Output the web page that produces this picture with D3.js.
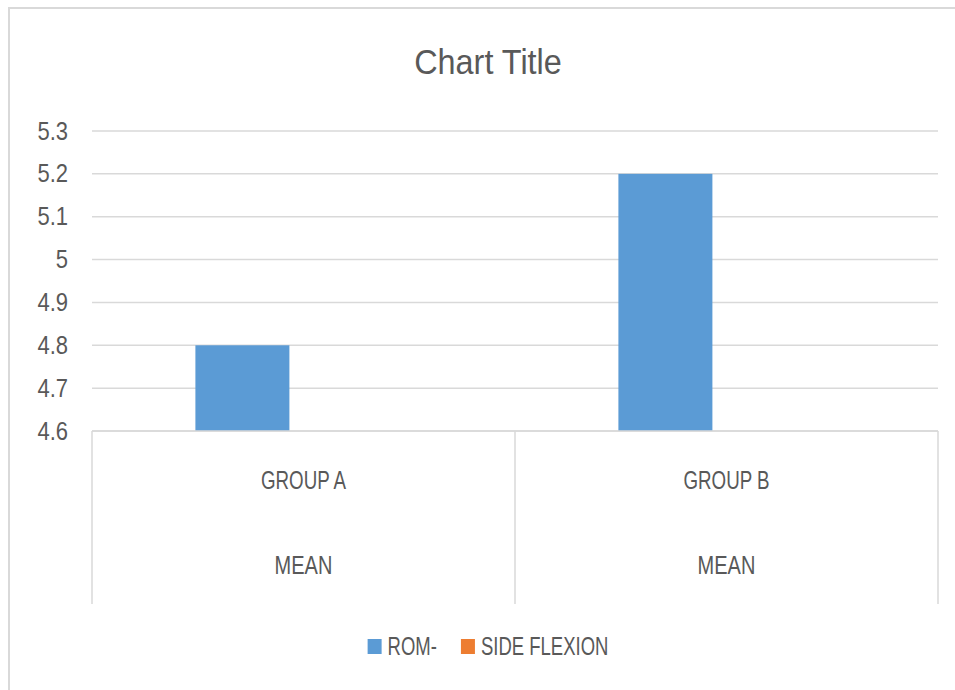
<!DOCTYPE html>
<html>
<head>
  <meta charset="UTF-8">
  <title>Chart Title</title>
  <style>
    body { margin: 0; background: #fff; }
    text { font-family: "Liberation Sans", Arial, sans-serif; fill: #595959; }
  </style>
</head>
<body>
  <div id="chart"></div>
  <script src="https://d3js.org/d3.v7.min.js"></script>
  <script>
    // values
    var categories = ["GROUP A", "GROUP B"];
    var subLabel = "MEAN";
    var seriesNames = ["ROM-", "SIDE FLEXION"];
    var romValues = [4.8, 5.2];
    var sideFlexionValues = [null, null]; // not visible in the chart
    var yTicks = [4.6, 4.7, 4.8, 4.9, 5, 5.1, 5.2, 5.3];
    var colors = ["#5b9bd5", "#ed7d31"];

    var W = 955, H = 690;
    var svg = d3.select("#chart").append("svg")
      .attr("width", W)
      .attr("height", H);

    // chart area border (right/bottom run off the page)
    svg.append("rect")
      .attr("x", 9).attr("y", 8)
      .attr("width", 970).attr("height", 700)
      .attr("fill", "#fff")
      .attr("stroke", "#d9d9d9")
      .attr("stroke-width", 2);

    var cx = 488; // centre of the chart area

    function squash(sel, sx) {
      sel.attr("transform", function() {
        var x = +this.getAttribute("data-x"), y = +this.getAttribute("data-y");
        return "translate(" + x + "," + y + ") scale(" + sx + ",1)";
      });
    }

    svg.append("text")
      .attr("data-x", cx).attr("data-y", 74)
      .attr("text-anchor", "middle")
      .attr("font-size", 36)
      .text("Chart Title")
      .call(squash, 0.9);

    var plot = { left: 92, right: 938, top: 131, bottom: 431, axisBottom: 604 };

    var y = d3.scaleLinear()
      .domain([yTicks[0], yTicks[yTicks.length - 1]])
      .range([plot.bottom, plot.top]);

    var x0 = d3.scaleBand()
      .domain(categories)
      .range([plot.left, plot.right])
      .padding(0);

    var x1 = d3.scaleBand()
      .domain(seriesNames)
      .range([0, x0.bandwidth()])
      .paddingInner(0)
      .paddingOuter(1.25)
      .align(0.44);

    // gridlines
    svg.append("g").selectAll("line")
      .data(yTicks)
      .join("line")
      .attr("x1", plot.left).attr("x2", plot.right)
      .attr("y1", function(d) { return y(d); })
      .attr("y2", function(d) { return y(d); })
      .attr("stroke", "#d9d9d9")
      .attr("stroke-width", 1.5);

    // y tick labels
    svg.append("g").selectAll("text")
      .data(yTicks)
      .join("text")
      .attr("data-x", 68)
      .attr("data-y", function(d) { return y(d) + 8.5; })
      .attr("text-anchor", "end")
      .attr("font-size", 25)
      .text(function(d) { return d3.format("")(d); })
      .call(squash, 0.88);

    // bars
    var barData = [];
    categories.forEach(function(c, i) {
      barData.push({ cat: c, series: seriesNames[0], value: romValues[i], color: colors[0] });
      barData.push({ cat: c, series: seriesNames[1], value: sideFlexionValues[i], color: colors[1] });
    });

    svg.append("g").selectAll("rect")
      .data(barData.filter(function(d) { return d.value != null && d.value > y.domain()[0]; }))
      .join("rect")
      .attr("x", function(d) { return x0(d.cat) + x1(d.series); })
      .attr("width", x1.bandwidth())
      .attr("y", function(d) { return y(d.value); })
      .attr("height", function(d) { return y(y.domain()[0]) - y(d.value); })
      .attr("fill", function(d) { return d.color; });

    // category axis
    var axis = svg.append("g");
    axis.append("line")
      .attr("x1", plot.left).attr("x2", plot.right)
      .attr("y1", plot.bottom).attr("y2", plot.bottom)
      .attr("stroke", "#d9d9d9").attr("stroke-width", 1.5);

    var edges = categories.map(function(c) { return x0(c); }).concat([plot.right]);
    axis.selectAll("line.sep")
      .data(edges)
      .join("line")
      .attr("class", "sep")
      .attr("x1", function(d) { return d; }).attr("x2", function(d) { return d; })
      .attr("y1", plot.bottom).attr("y2", plot.axisBottom)
      .attr("stroke", "#d9d9d9").attr("stroke-width", 1.5);

    axis.selectAll("text.cat")
      .data(categories)
      .join("text")
      .attr("class", "cat")
      .attr("data-x", function(d) { return x0(d) + x0.bandwidth() / 2; })
      .attr("data-y", 489)
      .attr("text-anchor", "middle")
      .attr("font-size", 25)
      .text(function(d) { return d; })
      .call(squash, 0.75);

    axis.selectAll("text.sub")
      .data(categories)
      .join("text")
      .attr("class", "sub")
      .attr("data-x", function(d) { return x0(d) + x0.bandwidth() / 2; })
      .attr("data-y", 574)
      .attr("text-anchor", "middle")
      .attr("font-size", 25)
      .text(subLabel)
      .call(squash, 0.8);

    // legend
    var legend = svg.append("g");
    var items = legend.selectAll("g")
      .data(seriesNames)
      .join("g");
    items.append("rect")
      .attr("width", 14).attr("height", 15)
      .attr("y", -16)
      .attr("fill", function(d, i) { return colors[i]; });
    items.append("text")
      .attr("data-x", 20).attr("data-y", 0)
      .attr("font-size", 25)
      .text(function(d) { return d; })
      .call(squash, 0.74);

    var widths = [];
    items.each(function() {
      var t = d3.select(this).select("text").node();
      widths.push(20 + t.getComputedTextLength() * 0.74);
    });
    var gap = 24;
    var total = d3.sum(widths) + gap * (widths.length - 1);
    var pos = cx - total / 2;
    items.attr("transform", function(d, i) {
      var p = pos;
      pos += widths[i] + gap;
      return "translate(" + p + ",655)";
    });
  </script>
</body>
</html>
